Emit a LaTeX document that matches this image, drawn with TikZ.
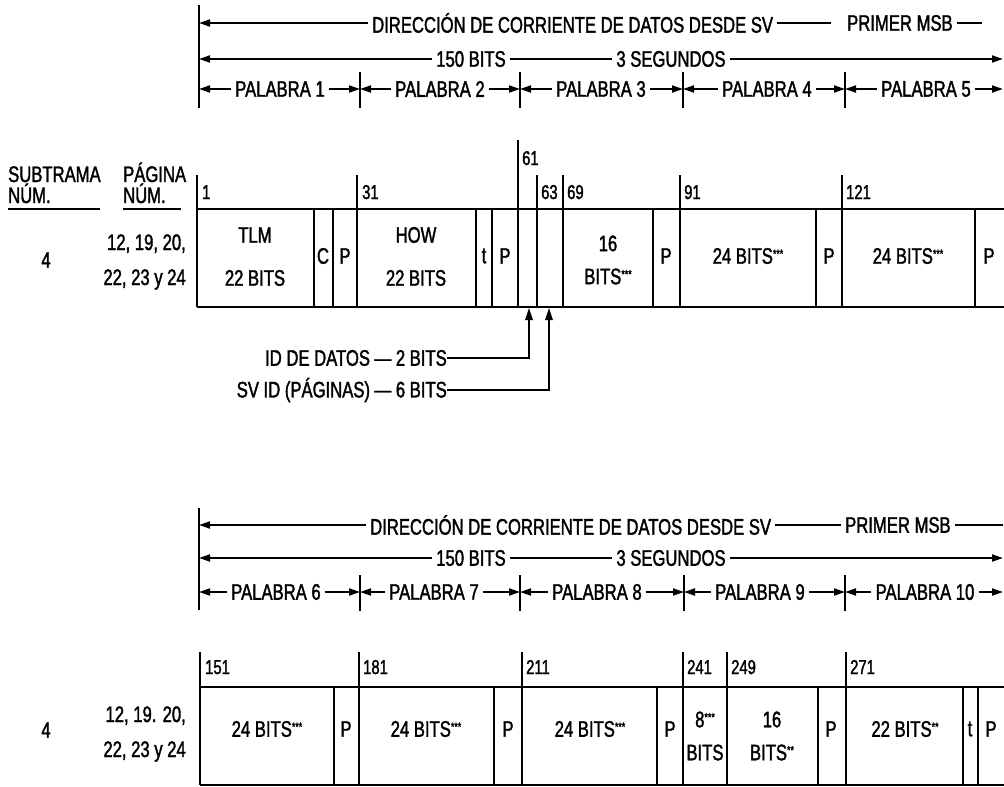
\documentclass[tikz,border=0pt]{standalone}
\usepackage{fontspec}
\setmainfont{Liberation Sans}[FakeStretch=0.74,FakeBold=1.6]
\usetikzlibrary{arrows.meta}
\newcommand{\mainfs}{\fontsize{22.5}{26}\selectfont}
\newcommand{\numfs}{\fontsize{20}{22}\selectfont}
\newcommand{\stars}[1]{\raisebox{0.5ex}{\fontsize{12}{12}\selectfont #1}}
\begin{document}
\begin{tikzpicture}[x=1pt,y=-1pt,
 hd/.style={inner xsep=4pt, inner ysep=0pt, font=\mainfs},
 lbl/.style={inner sep=0pt, font=\mainfs, align=center},
 lbltwo/.style={inner sep=0pt, font=\fontsize{22.5}{33}\selectfont, align=center},
 pglbl/.style={inner sep=0pt, font=\fontsize{22.5}{35}\selectfont, align=right, anchor=east},
 headlbl/.style={inner sep=0pt, font=\fontsize{22.5}{21}\selectfont, align=left, anchor=base west},
 num/.style={inner sep=0pt, font=\numfs, anchor=base west},
 hl/.style={line width=2pt},
 ar/.style={line width=2pt, -{Triangle[length=11pt,width=7pt]}},
 upar/.style={line width=1.4pt, -{Triangle[length=12pt,width=7.5pt]}},
 tbl/.style={line width=2.6pt},
 vl/.style={line width=1.5pt},
]
\useasboundingbox (0,0) rectangle (1004,787);

% ================= BLOCK 1 HEADER =================
\draw[vl] (199,5) -- (199,108);
\foreach \x in {360,520,683,845} \draw[vl] (\x,72) -- (\x,108);
\node[hd,anchor=west] (dirA) at (368,23) {DIRECCIÓN DE CORRIENTE DE DATOS DESDE SV};
\node[hd,anchor=west] (msbA) at (843,23) {PRIMER MSB};
\coordinate (dirAL) at (199,23);
\coordinate (msbAR) at (982,23);
\draw[ar] (dirA.west) -- (dirAL);
\draw[hl, shorten >=12pt] (dirA.east) -- (msbA.west);
\draw[hl] (msbA.east) -- (msbAR);

\node[hd] (bitsA) at (471,59) {150 BITS};
\node[hd] (segA) at (671,59) {3 SEGUNDOS};
\coordinate (bitsAL) at (199,59);
\coordinate (segAR) at (1003,59);
\draw[ar] (bitsA.west) -- (bitsAL);
\draw[hl] (bitsA.east) -- (segA.west);
\draw[ar] (segA.east) -- (segAR);

\coordinate (kA0) at (199,89);
\coordinate (kA1) at (360,89);
\coordinate (kA2) at (520,89);
\coordinate (kA3) at (683,89);
\coordinate (kA4) at (845,89);
\coordinate (kA5) at (1003,89);
\node[hd] (pA1) at (280,89) {PALABRA 1};
\node[hd] (pA2) at (440,89) {PALABRA 2};
\node[hd] (pA3) at (601,89) {PALABRA 3};
\node[hd] (pA4) at (767,89) {PALABRA 4};
\node[hd] (pA5) at (926,89) {PALABRA 5};
\foreach \i [evaluate=\i as \j using int(\i-1)] in {1,...,5} {
  \draw[ar] (pA\i.west) -- (kA\j);
  \draw[ar] (pA\i.east) -- (kA\i);
}

% ================= TABLE 1 =================
\node[headlbl] (subtr) at (8,203) {SUBTRAMA\\NÚM.};
\node[headlbl] (pagin) at (123,203) {PÁGINA\\NÚM.};
\draw[vl] (8,209) -- (100,209);
\draw[vl] (123,209) -- (181,209);

\node[num] (cA1) at (202,199) {1};
\node[num] (cA31) at (362,199) {31};
\node[num] (cA61) at (522,165) {61};
\node[num] (cA63) at (541,199) {63};
\node[num] (cA69) at (567,199) {69};
\node[num] (cA91) at (684,199) {91};
\node[num] (cA121) at (846,199) {121};

\draw[tbl] (197,209) -- (1004,209);
\draw[tbl] (197,307) -- (1004,307);
\foreach \x in {197,357,537,563,680,842} \draw[vl] (\x,175) -- (\x,307);
\draw[vl] (518,140) -- (518,307);
\foreach \x in {314,333,476,492,653,816,975} \draw[vl] (\x,209) -- (\x,307);

\node[lbl] (subA) at (46,260) {4};
\node[pglbl] (pgA) at (186,262) {12, 19, 20,\\22, 23 y 24};

\node[lbl] (tlm) at (255,235) {TLM};
\node[lbl] (tlmb) at (255,278) {22 BITS};
\node[lbl] (cc) at (323,256) {C};
\node[lbl] (pa) at (345,256) {P};
\node[lbl] (how) at (416,235) {HOW};
\node[lbl] (howb) at (416,278) {22 BITS};
\node[lbl] (tt) at (484,256) {t};
\node[lbl] (pb) at (505,256) {P};
\node[lbltwo] (w3) at (608,260) {16\\BITS\stars{***}};
\node[lbl] (pc) at (666,256) {P};
\node[lbl] (w4) at (748,256) {24 BITS\stars{***}};
\node[lbl] (pd) at (829,256) {P};
\node[lbl] (w5) at (908,256) {24 BITS\stars{***}};
\node[lbl] (pe) at (989,256) {P};

\node[lbl, anchor=east] (idd) at (447,358) {ID DE DATOS — 2 BITS};
\node[lbl, anchor=east] (svid) at (447,390) {SV ID (PÁGINAS) — 6 BITS};
\coordinate (idT) at (529,308);
\coordinate (svT) at (549,308);
\draw[upar] (idd.east) -| (idT);
\draw[upar] (svid.east) -| (svT);

% ================= BLOCK 2 HEADER =================
\draw[vl] (199,508) -- (199,610);
\foreach \x in {360,520,684,845} \draw[vl] (\x,575) -- (\x,611);
\node[hd,anchor=west] (dirB) at (366,525) {DIRECCIÓN DE CORRIENTE DE DATOS DESDE SV};
\node[hd,anchor=west] (msbB) at (841,525) {PRIMER MSB};
\coordinate (dirBL) at (199,525);
\coordinate (msbBR) at (1003,525);
\draw[ar] (dirB.west) -- (dirBL);
\draw[hl] (dirB.east) -- (msbB.west);
\draw[hl] (msbB.east) -- (msbBR);

\node[hd] (bitsB) at (471,558) {150 BITS};
\node[hd] (segB) at (671,558) {3 SEGUNDOS};
\coordinate (bitsBL) at (199,558);
\coordinate (segBR) at (1003,558);
\draw[ar] (bitsB.west) -- (bitsBL);
\draw[hl] (bitsB.east) -- (segB.west);
\draw[ar] (segB.east) -- (segBR);

\coordinate (kB0) at (199,592);
\coordinate (kB1) at (360,592);
\coordinate (kB2) at (520,592);
\coordinate (kB3) at (684,592);
\coordinate (kB4) at (845,592);
\coordinate (kB5) at (1003,592);
\node[hd] (pB1) at (276,592) {PALABRA 6};
\node[hd] (pB2) at (434,592) {PALABRA 7};
\node[hd] (pB3) at (597,592) {PALABRA 8};
\node[hd] (pB4) at (760,592) {PALABRA 9};
\node[hd] (pB5) at (925,592) {PALABRA 10};
\foreach \i [evaluate=\i as \j using int(\i-1)] in {1,...,5} {
  \draw[ar] (pB\i.west) -- (kB\j);
  \draw[ar] (pB\i.east) -- (kB\i);
}

% ================= TABLE 2 =================
\node[num] (cB151) at (205,674) {151};
\node[num] (cB181) at (363,674) {181};
\node[num] (cB211) at (526,674) {211};
\node[num] (cB241) at (687,674) {241};
\node[num] (cB249) at (731,674) {249};
\node[num] (cB271) at (850,674) {271};

\draw[tbl] (200,687) -- (1004,687);
\draw[tbl] (200,785) -- (1004,785);
\foreach \x in {200,359,522,683,727,846} \draw[vl] (\x,652) -- (\x,785);
\foreach \x in {334,494,657,818,963,978} \draw[vl] (\x,687) -- (\x,785);

\node[lbl] (subB) at (46,730) {4};
\node[pglbl] (pgB) at (186,734) {12, 19. 20,\\22, 23 y 24};

\node[lbl] (w6) at (267,729) {24 BITS\stars{***}};
\node[lbl] (p6) at (346,729) {P};
\node[lbl] (w7) at (426,729) {24 BITS\stars{***}};
\node[lbl] (p7) at (508,729) {P};
\node[lbl] (w8) at (590,729) {24 BITS\stars{***}};
\node[lbl] (p8) at (670,729) {P};
\node[lbltwo] (w9a) at (705,736) {8\stars{***}\\BITS};
\node[lbltwo] (w9b) at (772,736) {16\\BITS\stars{**}};
\node[lbl] (p9) at (831,729) {P};
\node[lbl] (w10) at (905,729) {22 BITS\stars{**}};
\node[lbl] (tB) at (970,729) {t};
\node[lbl] (p10) at (991,729) {P};
\end{tikzpicture}
\end{document}
